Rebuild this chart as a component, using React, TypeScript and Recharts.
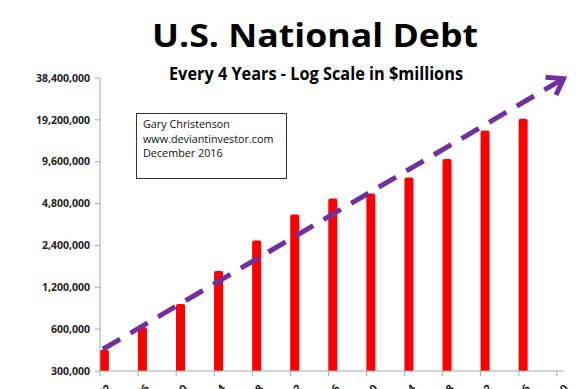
import React from 'react';
import { ComposedChart, Bar, Line, XAxis, YAxis, Customized, Rectangle } from 'recharts';

const years = [1972, 1976, 1980, 1984, 1988, 1992, 1996, 2000, 2004, 2008, 2012, 2016];
const debtMillions = [427000, 620000, 908000, 1572000, 2602000, 4002000, 5225000, 5674000, 7379000, 10025000, 16066000, 19573000];
const xTickYears = [1972, 1976, 1980, 1984, 1988, 1992, 1996, 2000, 2004, 2008, 2012, 2016, 2020];
const yTicks = [300000, 600000, 1200000, 2400000, 4800000, 9600000, 19200000, 38400000];
const trendYears = [1972.3, 2020.7];
const trendValues = [430000, 38000000];
const noteLines = ['Gary Christenson', 'www.deviantinvestor.com', 'December 2016'];
const title = 'U.S. National Debt';
const subtitle = 'Every 4 Years - Log Scale in $millions';

const data = years.map((year, i) => ({ year, debt: debtMillions[i] }));
const trendData = trendYears.map((year, i) => ({ year, trend: trendValues[i] }));

const PURPLE = '#7030A0';
const FONT = '"Open Sans", sans-serif';
const BAR_W = 9;

const BarShape = (props: any) => {
  const { x, y, width, height } = props;
  if (height == null || isNaN(height)) return <g />;
  const left = x + width / 2;
  return (
    <Rectangle x={left} y={y} width={BAR_W} height={height} radius={[2, 2, 0, 0]} fill="#FF0000" />
  );
};

const ArrowDot = (props: any) => {
  const { cx, cy, index, points } = props;
  if (index !== trendData.length - 1 || cx == null) return <g key={`d${index}`} />;
  let ang = -Math.PI / 6;
  if (points && points.length > 1) {
    const p0 = points[0];
    ang = Math.atan2(cy - p0.y, cx - p0.x);
  }
  const back = ang + Math.PI;
  const L = 18;
  const h = (35 * Math.PI) / 180;
  const a1x = cx + L * Math.cos(back - h);
  const a1y = cy + L * Math.sin(back - h);
  const a2x = cx + L * Math.cos(back + h);
  const a2y = cy + L * Math.sin(back + h);
  return (
    <path
      key={`d${index}`}
      d={`M${a1x},${a1y} L${cx},${cy} L${a2x},${a2y}`}
      stroke={PURPLE}
      strokeWidth={5}
      fill="none"
      strokeLinejoin="miter"
    />
  );
};

const XTick = (props: any) => {
  const { x, y, payload } = props;
  const ax = x + 12;
  const ay = y + 11;
  return (
    <text
      x={ax}
      y={ay}
      transform={`rotate(-45, ${ax}, ${ay})`}
      textAnchor="end"
      fontFamily={FONT}
      fontSize={11}
      fontWeight={700}
      fill="#222"
    >
      {payload.value}
    </text>
  );
};

const Annotations = () => (
  <g>
    <text x={315} y={47} textAnchor="middle" fontFamily={FONT} fontWeight={700} fontSize={33} fill="#000" textLength={326} lengthAdjust="spacingAndGlyphs">
      {title}
    </text>
    <text x={316} y={80} textAnchor="middle" fontFamily={FONT} fontWeight={700} fontSize={17} fill="#000" textLength={294} lengthAdjust="spacingAndGlyphs">
      {subtitle}
    </text>
    <rect x={136.5} y={113.5} width={150} height={65} fill="#fff" stroke="#333" strokeWidth={1} />
    {noteLines.map((line, i) => (
      <text key={line} x={143} y={128 + i * 14.6} fontFamily={FONT} fontSize={10.8} fill="#111">
        {line}
      </text>
    ))}
  </g>
);

export default function App() {
  return (
    <div style={{ position: 'absolute', left: 0, top: 0, width: 587, height: 389, background: '#fff' }}>
      <ComposedChart width={587} height={389} data={data} margin={{ top: 78, right: 23, bottom: 0, left: 0 }}>
        <XAxis
          type="number"
          dataKey="year"
          domain={[1972, 2020.75]}
          ticks={xTickYears}
          interval={0}
          height={18}
          tickSize={5}
          tickMargin={2}
          stroke="#A6A6A6"
          tick={<XTick />}
          allowDecimals
        />
        <YAxis
          type="number"
          scale="log"
          domain={[300000, 38400000]}
          ticks={yTicks}
          interval={0}
          width={100}
          tickSize={5}
          tickMargin={5}
          stroke="#A6A6A6"
          tickFormatter={(v: number) => v.toLocaleString('en-US')}
          tick={{ fontFamily: FONT, fontWeight: 700, fontSize: 10.5, fill: '#222' }}
        />
        <Bar dataKey="debt" barSize={9} shape={<BarShape />} isAnimationActive={false} />
        <Line
          data={trendData}
          dataKey="trend"
          stroke={PURPLE}
          strokeWidth={5}
          strokeDasharray="20 12"
          dot={ArrowDot}
          activeDot={false}
          isAnimationActive={false}
        />
        <Customized component={Annotations} />
      </ComposedChart>
    </div>
  );
}
